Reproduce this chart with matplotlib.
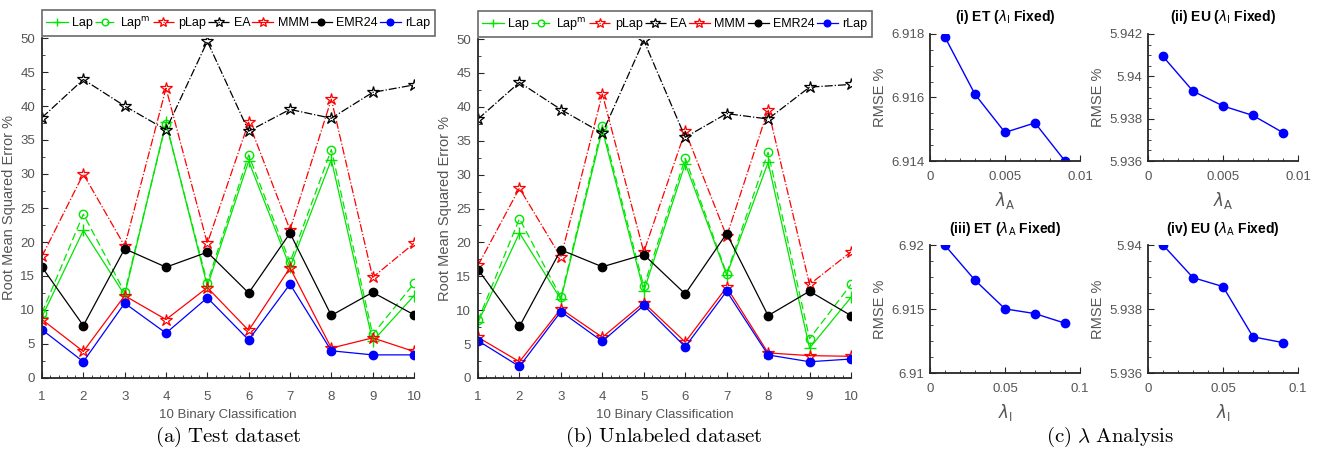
import matplotlib
matplotlib.use("Agg")
import matplotlib.pyplot as plt
from matplotlib.ticker import AutoMinorLocator

plt.rcParams['font.family'] = ['Liberation Sans', 'DejaVu Sans']
plt.rcParams['mathtext.fontset'] = 'dejavusans'

# x positions for the 10 binary tasks
tasks = list(range(1, 11))

# (a) test dataset
testLap = [9.0, 21.7, 12.2, 37.6, 13.5, 31.9, 16.3, 32.1, 5.4, 12.1]
testLapm = [9.6, 24.1, 12.6, 37.4, 14.0, 32.8, 17.0, 33.6, 6.4, 13.9]
testPLap = [17.9, 30.0, 19.4, 42.6, 19.8, 37.6, 21.8, 41.0, 14.8, 19.8]
testEA = [38.3, 43.9, 40.0, 36.5, 49.5, 36.3, 39.5, 38.2, 42.0, 43.1]
testMMM = [8.6, 3.9, 12.1, 8.6, 13.3, 7.0, 16.2, 4.4, 5.9, 3.9]
testEMR = [16.3, 7.7, 19.0, 16.3, 18.5, 12.5, 21.3, 9.2, 12.6, 9.3]
testRLap = [7.1, 2.4, 11.0, 6.6, 11.8, 5.6, 13.8, 4.0, 3.4, 3.4]

# (b) unlabeled dataset
unlLap = [8.2, 21.4, 11.6, 36.6, 12.8, 31.6, 15.2, 31.8, 4.4, 11.9]
unlLapm = [8.5, 23.5, 11.9, 37.2, 13.5, 32.4, 15.4, 33.3, 5.8, 13.8]
unlPLap = [16.6, 28.0, 17.8, 41.9, 18.6, 36.4, 20.9, 39.6, 13.8, 18.6]
unlEA = [38.2, 43.6, 39.6, 36.1, 49.8, 35.5, 39.0, 38.2, 42.9, 43.3]
unlMMM = [6.0, 2.4, 10.2, 6.0, 11.1, 5.3, 13.4, 3.7, 3.3, 3.2]
unlEMR = [16.0, 7.6, 18.9, 16.4, 18.2, 12.4, 21.3, 9.2, 12.8, 9.2]
unlRLap = [5.5, 1.7, 9.8, 5.4, 10.7, 4.6, 12.8, 3.4, 2.4, 2.8]

# (c) lambda analysis
lamA = [0.001, 0.003, 0.005, 0.007, 0.009]
lamI = [0.01, 0.03, 0.05, 0.07, 0.09]
etLamIFixed = [6.9179, 6.9161, 6.9149, 6.9152, 6.9140]
euLamIFixed = [5.94094, 5.93930, 5.93860, 5.93815, 5.93734]
etLamAFixed = [6.91997, 6.91725, 6.91501, 6.91464, 6.91389]
euLamAFixed = [5.9400, 5.93898, 5.9387, 5.93713, 5.93695]

green = '#00e600'
axisCol = '#262626'
tickCol = '#555555'

W, H = 1318, 457
fig = plt.figure(figsize=(W / 100, H / 100), dpi=100)


def styleAxes(ax, xpad=6, ypad=4):
    for s in ['top', 'right']:
        ax.spines[s].set_visible(False)
    for s in ['left', 'bottom']:
        ax.spines[s].set_color(axisCol)
        ax.spines[s].set_linewidth(1.3)
    ax.tick_params(which='both', direction='in', colors=axisCol,
                   labelcolor=tickCol, labelsize=9.5)
    ax.tick_params(which='major', length=4, width=0.8)
    ax.tick_params(which='minor', length=2.5, width=0.6)
    ax.tick_params(axis='x', pad=xpad)
    ax.tick_params(axis='y', pad=ypad)


def rmsePanel(rect, lap, lapm, plap, ea, mmm, emr, rlap):
    ax = fig.add_axes(rect)
    ax.plot(tasks, lap, '-', color=green, marker='+', ms=8, lw=0.9, label='Lap')
    ax.plot(tasks, lapm, '--', color=green, marker='o', ms=6, mfc='none', lw=0.9,
            dashes=(6, 3), label=r'Lap$^{\rm m}$')
    ax.plot(tasks, plap, '-.', color='red', marker='*', ms=9, mfc='none', mew=0.9,
            lw=0.9, label='pLap')
    ax.plot(tasks, ea, '-.', color='black', marker='*', ms=9, mfc='none', mew=0.9,
            lw=0.9, label='EA')
    ax.plot(tasks, mmm, '-', color='red', marker='*', ms=9, mfc='none', mew=0.9,
            lw=0.9, label='MMM')
    ax.plot(tasks, emr, '-', color='black', marker='o', ms=6, lw=0.9, label='EMR24')
    ax.plot(tasks, rlap, '-', color='blue', marker='o', ms=6, lw=0.9, label='rLap')
    ax.set_xlim(1, 10)
    ax.set_ylim(0, 50)
    ax.set_xticks(tasks)
    ax.set_yticks(range(0, 51, 5))
    ax.xaxis.set_minor_locator(AutoMinorLocator(5))
    ax.yaxis.set_minor_locator(AutoMinorLocator(2))
    styleAxes(ax, xpad=9, ypad=5)
    ax.set_xlabel('10 Binary Classification', fontsize=9.5, color=tickCol, labelpad=5)
    ax.set_ylabel('Root Mean Squared Error %', fontsize=10.5, color=tickCol, labelpad=3)
    leg = ax.legend(loc='lower left', bbox_to_anchor=(0, 1.006, 1.056, 0.075),
                    mode='expand', ncol=7, fontsize=9, handlelength=1.7,
                    markerscale=0.8, handletextpad=0.35, columnspacing=1.0,
                    borderaxespad=0, borderpad=0.35, fancybox=False,
                    edgecolor='#444444')
    leg.get_frame().set_linewidth(1.2)
    return ax


rmsePanel([42 / W, 79 / H, 372 / W, 340 / H],
          testLap, testLapm, testPLap, testEA, testMMM, testEMR, testRLap)
rmsePanel([478 / W, 79 / H, 373 / W, 339 / H],
          unlLap, unlLapm, unlPLap, unlEA, unlMMM, unlEMR, unlRLap)


def lamPanel(rect, xs, ys, title, xlab, xlim, xt, xtl, ylim, yt, ytl):
    ax = fig.add_axes(rect)
    ax.plot(xs, ys, '-', color='blue', marker='o', ms=6, lw=1)
    ax.set_xlim(*xlim)
    ax.set_ylim(*ylim)
    ax.set_xticks(xt)
    ax.set_xticklabels(xtl)
    ax.set_yticks(yt)
    ax.set_yticklabels(ytl)
    ax.xaxis.set_minor_locator(AutoMinorLocator(5))
    ax.yaxis.set_minor_locator(AutoMinorLocator(4))
    styleAxes(ax, xpad=7, ypad=4)
    ax.set_title(title, fontsize=10, fontweight='bold', pad=9)
    ax.set_xlabel(xlab, fontsize=12, color=tickCol, labelpad=5)
    ax.set_ylabel('RMSE %', fontsize=10.5, color=tickCol, labelpad=3)
    return ax


lamPanel([930 / W, 296 / H, 150 / W, 127 / H], lamA, etLamIFixed,
         r'(i) ET ($\lambda_{\rm I}$ Fixed)', r'$\lambda_{\rm A}$',
         (0, 0.01), [0, 0.005, 0.01], ['0', '0.005', '0.01'],
         (6.914, 6.918), [6.914, 6.916, 6.918], ['6.914', '6.916', '6.918'])
lamPanel([1148 / W, 296 / H, 150 / W, 127 / H], lamA, euLamIFixed,
         r'(ii) EU ($\lambda_{\rm I}$ Fixed)', r'$\lambda_{\rm A}$',
         (0, 0.01), [0, 0.005, 0.01], ['0', '0.005', '0.01'],
         (5.936, 5.942), [5.936, 5.938, 5.94, 5.942], ['5.936', '5.938', '5.94', '5.942'])
lamPanel([930 / W, 84 / H, 150 / W, 128 / H], lamI, etLamAFixed,
         r'(iii) ET ($\lambda_{\rm A}$ Fixed)', r'$\lambda_{\rm I}$',
         (0, 0.1), [0, 0.05, 0.1], ['0', '0.05', '0.1'],
         (6.91, 6.92), [6.91, 6.915, 6.92], ['6.91', '6.915', '6.92'])
lamPanel([1148 / W, 84 / H, 150 / W, 128 / H], lamI, euLamAFixed,
         r'(iv) EU ($\lambda_{\rm A}$ Fixed)', r'$\lambda_{\rm I}$',
         (0, 0.1), [0, 0.05, 0.1], ['0', '0.05', '0.1'],
         (5.936, 5.94), [5.936, 5.938, 5.94], ['5.936', '5.938', '5.94'])

# sub-figure captions in a LaTeX-like serif
for xc, cap in [(228, r'$\mathrm{(a)\ Test\ dataset}$'),
                (664, r'$\mathrm{(b)\ Unlabeled\ dataset}$'),
                (1110, r'$\mathrm{(c)}\ \lambda\ \mathrm{Analysis}$')]:
    t = fig.text(xc / W, 1 - 437 / H, cap, fontsize=15, ha='center', va='center')
    t.set_math_fontfamily('cm')

fig.savefig('out.png', dpi=100)
